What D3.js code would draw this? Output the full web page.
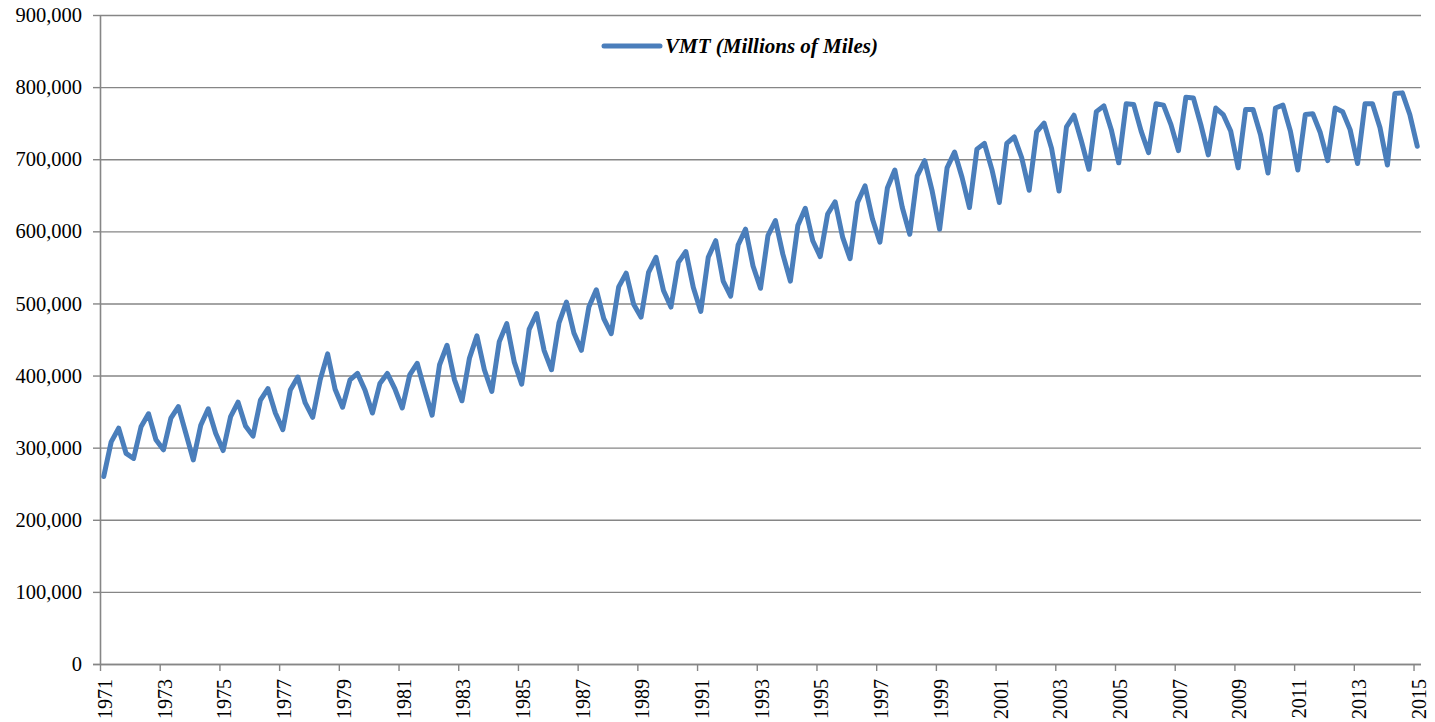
<!DOCTYPE html>
<html>
<head>
<meta charset="utf-8">
<script src="https://cdn.jsdelivr.net/npm/d3@7"></script>
<style>
  html, body { margin: 0; padding: 0; background: #ffffff; }
  svg { display: block; }
</style>
</head>
<body>
<svg id="chart" width="1435" height="722"></svg>
<script>
// Quarterly vehicle miles traveled, 1971 Q1 through 2015 Q1 (millions of miles)
const startYear = 1971;
const vmt = [
  260000, 308000, 327000, 292000,  285000, 329000, 347000, 311000,
  297000, 341000, 357000, 320000,  283000, 331000, 354000, 320000,
  296000, 343000, 363000, 330000,  316000, 366000, 382000, 348000,
  325000, 380000, 398000, 362000,  342000, 394000, 430000, 381000,
  356000, 394000, 403000, 380000,  348000, 389000, 403000, 382000,
  355000, 401000, 417000, 380000,  345000, 415000, 442000, 394000,
  365000, 424000, 455000, 408000,  378000, 447000, 472000, 419000,
  388000, 464000, 486000, 435000,  408000, 473000, 502000, 459000,
  435000, 495000, 519000, 479000,  458000, 523000, 542000, 499000,
  481000, 543000, 564000, 518000,  495000, 557000, 572000, 522000,
  489000, 564000, 587000, 531000,  510000, 581000, 603000, 552000,
  521000, 594000, 615000, 568000,  531000, 608000, 632000, 587000,
  565000, 624000, 641000, 592000,  562000, 640000, 663000, 617000,
  585000, 660000, 685000, 633000,  596000, 677000, 698000, 656000,
  603000, 688000, 710000, 675000,  633000, 714000, 722000, 686000,
  640000, 722000, 731000, 702000,  657000, 738000, 750000, 715000,
  656000, 745000, 761000, 725000,  686000, 766000, 774000, 741000,
  695000, 777000, 776000, 739000,  709000, 777000, 775000, 748000,
  712000, 786000, 785000, 748000,  706000, 771000, 762000, 739000,
  688000, 769000, 769000, 734000,  681000, 771000, 775000, 739000,
  685000, 762000, 763000, 737000,  698000, 771000, 766000, 741000,
  694000, 777000, 777000, 744000,  692000, 791000, 792000, 762000,
  718000
];

// Axis labels: every other year, and the value gridlines
const yearLabels = ["1971","1973","1975","1977","1979","1981","1983","1985","1987",
  "1989","1991","1993","1995","1997","1999","2001","2003","2005","2007","2009",
  "2011","2013","2015"];
const yTicks = [0, 100000, 200000, 300000, 400000, 500000, 600000, 700000, 800000, 900000];
const seriesName = "VMT (Millions of Miles)";

const plotLeft = 100, plotRight = 1421, plotTop = 15, plotBottom = 664;
const gridColor = "#868686";
const lineColor = "#4a7ebb";
const serif = "'Liberation Serif', 'Times New Roman', Times, serif";

const svg = d3.select("#chart");

// Quarter slots: each quarter occupies one band, points sit in the middle of it
const x = d3.scaleLinear().domain([0, vmt.length]).range([plotLeft, plotRight]);
const y = d3.scaleLinear().domain([0, 900000]).range([plotBottom, plotTop]);

// Horizontal gridlines
svg.append("g")
  .attr("transform", `translate(${plotLeft},0)`)
  .call(d3.axisLeft(y).tickValues(yTicks).tickSize(-(plotRight - plotLeft)).tickFormat(""))
  .call(g => g.select(".domain").remove())
  .call(g => g.selectAll("line").attr("stroke", gridColor).attr("stroke-width", 1.4));

// Left axis with labels and short outward ticks
const fmt = d3.format(",");
svg.append("g")
  .attr("transform", `translate(${plotLeft},0)`)
  .call(d3.axisLeft(y).tickValues(yTicks).tickSizeInner(7).tickSizeOuter(0).tickPadding(11)
    .tickFormat(d => fmt(d)))
  .attr("font-family", serif)
  .attr("font-size", 20.5)
  .call(g => g.select(".domain").attr("stroke", gridColor).attr("stroke-width", 1.6))
  .call(g => g.selectAll(".tick line").attr("stroke", gridColor).attr("stroke-width", 1.4))
  .call(g => g.selectAll("text").attr("fill", "#000"));

// Bottom axis: a tick at the start of every second year
const tickIdx = yearLabels.map(l => (+l - startYear) * 4);
svg.append("g")
  .attr("transform", `translate(0,${plotBottom})`)
  .call(d3.axisBottom(x).tickValues(tickIdx).tickSizeInner(7).tickSizeOuter(0)
    .tickFormat((d, i) => yearLabels[i]))
  .attr("font-family", serif)
  .attr("font-size", 20)
  .call(g => g.select(".domain").attr("stroke", gridColor).attr("stroke-width", 1.6)
    .attr("d", `M${plotLeft - 7},0.5H${plotRight}`))
  .call(g => g.selectAll(".tick line").attr("stroke", gridColor).attr("stroke-width", 1.4))
  .call(g => g.selectAll("text")
    .attr("fill", "#000")
    .attr("text-anchor", "end")
    .attr("transform", "rotate(-90)")
    .attr("x", -15)
    .attr("y", 11.5)
    .attr("dy", 0));

// The series line
const line = d3.line()
  .x((d, i) => x(i + 0.5))
  .y(d => y(d));

svg.append("path")
  .datum(vmt)
  .attr("fill", "none")
  .attr("stroke", lineColor)
  .attr("stroke-width", 5)
  .attr("stroke-linejoin", "round")
  .attr("stroke-linecap", "round")
  .attr("d", line);

// Legend
const legend = svg.append("g").attr("transform", "translate(604,46)");
legend.append("line")
  .attr("x1", 0).attr("x2", 56).attr("y1", 0).attr("y2", 0)
  .attr("stroke", lineColor).attr("stroke-width", 5).attr("stroke-linecap", "round");
legend.append("text")
  .attr("x", 61).attr("y", 6.5)
  .attr("font-family", serif)
  .attr("font-weight", "bold").attr("font-style", "italic")
  .attr("font-size", 21)
  .attr("fill", "#000")
  .text(seriesName);
</script>
</body>
</html>
